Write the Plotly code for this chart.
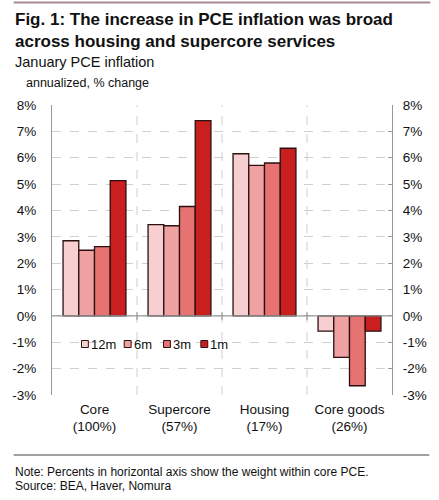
import plotly.graph_objects as go

categories = ["Core<br>(100%)", "Supercore<br>(57%)", "Housing<br>(17%)", "Core goods<br>(26%)"]
series_names = ["12m", "6m", "3m", "1m"]
vals_12m = [2.85, 3.46, 6.15, -0.58]
vals_6m = [2.49, 3.42, 5.71, -1.57]
vals_3m = [2.63, 4.15, 5.80, -2.65]
vals_1m = [5.13, 7.41, 6.36, -0.58]
tick_vals = [-3, -2, -1, 0, 1, 2, 3, 4, 5, 6, 7, 8]
tick_text = [f"{v}%" for v in tick_vals]

colors = ["#f7cfd0", "#f0a1a2", "#e67272", "#c9201f"]
series = [vals_12m, vals_6m, vals_3m, vals_1m]
OUTLINE = "#2a1010"

FONT = "Liberation Sans, Arial, sans-serif"

L, R, T, B = 51, 42, 105, 105
PW, PH = 439 - L - R, 500 - T - B


def px_x(px):
    return (px - L) / PW


def px_y(py):
    return (500 - B - py) / PH


fig = go.Figure()
for name, vals, c in zip(series_names, series, colors):
    fig.add_trace(go.Bar(
        x=list(range(len(categories))), y=vals, name=name, showlegend=False,
        marker=dict(color=c, line=dict(color=OUTLINE, width=1.3)),
    ))
# invisible trace for right axis
fig.add_trace(go.Scatter(x=[0], y=[0], yaxis="y2", mode="markers",
                         marker=dict(opacity=0), showlegend=False, hoverinfo="skip"))

grid = "#cfcfcf"
shapes = []
for b in [0.5, 1.5, 2.5]:
    shapes.append(dict(type="line", xref="x", yref="y", x0=b, x1=b, y0=-3, y1=8,
                       line=dict(color=grid, width=1, dash="dash"), layer="below"))
    shapes.append(dict(type="line", xref="x", yref="y", x0=b, x1=b, y0=-0.15, y1=0.15,
                       line=dict(color="#888888", width=1)))
# zero line
shapes.append(dict(type="line", xref="paper", yref="y", x0=0, x1=1, y0=0, y1=0,
                   line=dict(color="#999999", width=1.2)))
# top rule
shapes.append(dict(type="line", xref="paper", yref="paper", x0=px_x(12), x1=px_x(436),
                   y0=px_y(2.5), y1=px_y(2.5), line=dict(color="#a58a93", width=2)))
# footer rule
shapes.append(dict(type="line", xref="paper", yref="paper", x0=px_x(12), x1=px_x(435),
                   y0=px_y(455), y1=px_y(455), line=dict(color="#444444", width=1)))

annotations = [
    dict(text="<b>Fig. 1: The increase in PCE inflation was broad</b>",
         xref="paper", yref="paper", x=px_x(11), y=px_y(20), xanchor="left", yanchor="middle",
         showarrow=False, align="left", font=dict(size=17, color="#111111", family=FONT)),
    dict(text="<b>across housing and supercore services</b>",
         xref="paper", yref="paper", x=px_x(11), y=px_y(42), xanchor="left", yanchor="middle",
         showarrow=False, align="left", font=dict(size=17, color="#111111", family=FONT)),
    dict(text="January PCE inflation", xref="paper", yref="paper", x=px_x(11), y=px_y(62),
         xanchor="left", yanchor="middle", showarrow=False,
         font=dict(size=14.5, color="#111111", family=FONT)),
    dict(text="annualized, % change", xref="paper", yref="paper", x=px_x(23), y=px_y(83),
         xanchor="left", yanchor="middle", showarrow=False,
         font=dict(size=12.5, color="#111111", family=FONT)),
    dict(text="Note: Percents in horizontal axis show the weight within core PCE.",
         xref="paper", yref="paper", x=px_x(11), y=px_y(472), xanchor="left", yanchor="middle",
         showarrow=False, align="left", font=dict(size=12, color="#111111", family=FONT)),
    dict(text="Source: BEA, Haver, Nomura",
         xref="paper", yref="paper", x=px_x(11), y=px_y(486), xanchor="left", yanchor="middle",
         showarrow=False, align="left", font=dict(size=12, color="#111111", family=FONT)),
]

# manual legend
leg_sq_x = [84.5, 128, 168, 206]
leg_y = 344
for name, c, sx in zip(series_names, colors, leg_sq_x):
    shapes.append(dict(type="rect", xref="paper", yref="paper",
                       x0=px_x(sx - 3.5), x1=px_x(sx + 3.5), y0=px_y(leg_y + 3.5),
                       y1=px_y(leg_y - 3.5),
                       fillcolor=c, line=dict(color=OUTLINE, width=1)))
    annotations.append(dict(text=name, xref="paper", yref="paper", x=px_x(sx + 4),
                            y=px_y(leg_y), xanchor="left", yanchor="middle", showarrow=False,
                            font=dict(size=13, color="#111111", family=FONT)))

fig.update_layout(
    width=439, height=500,
    margin=dict(l=L, r=R, t=T, b=B),
    paper_bgcolor="white", plot_bgcolor="white",
    barmode="group", bargap=0.26, bargroupgap=0,
    font=dict(family=FONT, size=13, color="#111111"),
    showlegend=False,
    xaxis=dict(range=[-0.5, 3.5], tickmode="array", tickvals=list(range(4)),
               ticktext=categories, showgrid=False, zeroline=False, ticks="",
               showline=False, tickfont=dict(size=13.5, family=FONT), ticklabelstandoff=4),
    yaxis=dict(range=[-3, 8], tickmode="array", tickvals=tick_vals, ticktext=tick_text,
               showgrid=True, gridcolor=grid, griddash="dash", gridwidth=1,
               zeroline=False, showline=True, linecolor="#999999", linewidth=1.2,
               ticks="", tickfont=dict(size=13.5, family=FONT), ticklabelstandoff=12),
    yaxis2=dict(range=[-3, 8], overlaying="y", side="right", tickmode="array",
                tickvals=tick_vals, ticktext=tick_text, showgrid=False, zeroline=False,
                showline=True, linecolor="#999999", linewidth=1.2, ticks="inside",
                ticklen=4, tickcolor="#999999",
                tickfont=dict(size=13.5, family=FONT), ticklabelstandoff=7),
    shapes=shapes, annotations=annotations,
)

fig.write_html("out.html")
